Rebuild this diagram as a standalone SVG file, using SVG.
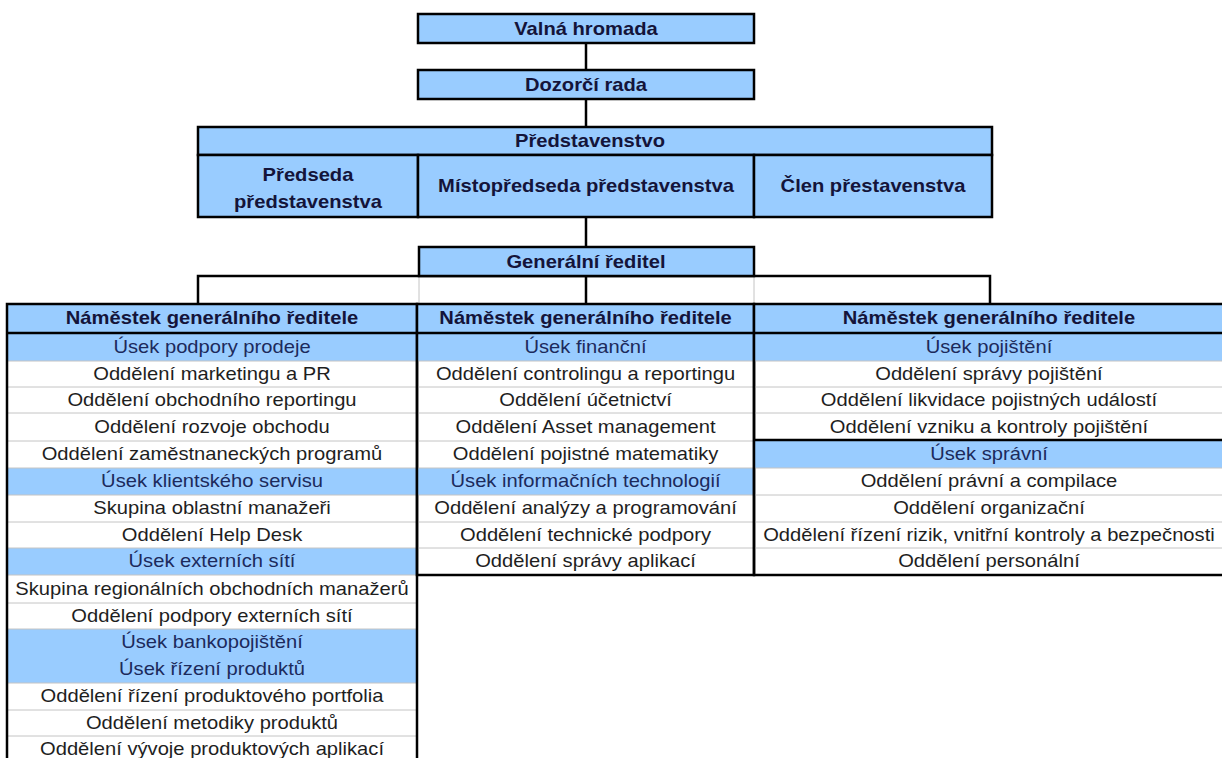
<svg xmlns="http://www.w3.org/2000/svg" width="1222" height="758" viewBox="0 0 1222 758">
<style>
.box{fill:#99ccff;stroke:#000;stroke-width:2.5}
.blue{fill:#99ccff}
.frame{fill:none;stroke:#000;stroke-width:2.5}
.thick{stroke:#000;stroke-width:2.5}
.grid{stroke:#c4c4c4;stroke-width:1}
.conn{stroke:#000;stroke-width:2.5;fill:none}
text{font-family:"Liberation Sans",Arial,sans-serif;font-size:18px;text-anchor:middle}
.b{font-weight:bold;fill:#14143a}
.r{fill:#1e1e1e}
.u{fill:#1c2a5c}
</style>
<rect x="0" y="0" width="1222" height="758" fill="#fff"/>

<g id="gridlines">
<line class="grid" x1="419" y1="276" x2="419" y2="304"/>
<line class="grid" x1="754" y1="276" x2="754" y2="304"/>
</g>

<g id="connectors">
<line class="conn" x1="586" y1="43" x2="586" y2="70"/>
<line class="conn" x1="586" y1="99" x2="586" y2="127"/>
<line class="conn" x1="586" y1="217" x2="586" y2="247"/>
<path class="conn" d="M198,304 V276 H990 V304"/>
<line class="conn" x1="586" y1="276" x2="586" y2="304"/>
</g>

<g id="valna-hromada">
<rect class="box" x="418" y="14" width="336" height="29"/>
<g transform="scale(1.12,1)"><text class="b" x="523.2" y="35">Valná hromada</text></g>
</g>

<g id="dozorci-rada">
<rect class="box" x="418" y="70" width="336" height="29"/>
<g transform="scale(1.12,1)"><text class="b" x="523.2" y="91">Dozorčí rada</text></g>
</g>

<g id="predstavenstvo">
<rect class="box" x="198" y="127" width="794" height="28"/>
<rect class="box" x="198" y="155" width="220" height="62"/>
<rect class="box" x="418" y="155" width="336" height="62"/>
<rect class="box" x="754" y="155" width="238" height="62"/>
<g transform="scale(1.12,1)">
<text class="b" x="526.8" y="147.5">Představenstvo</text>
<text class="b" x="275" y="181.5">Předseda</text>
<text class="b" x="275" y="208.5">představenstva</text>
<text class="b" x="523.2" y="192.5">Místopředseda představenstva</text>
<text class="b" x="779.5" y="192.5">Člen přestavenstva</text>
</g>
</g>

<g id="generalni-reditel">
<rect class="box" x="419" y="247" width="335" height="29"/>
<g transform="scale(1.12,1)"><text class="b" x="523.2" y="268">Generální ředitel</text></g>
</g>

<g id="namestek-1">
<rect class="blue" x="7" y="304" width="410" height="29"/>
<rect class="blue" x="7" y="333" width="410" height="28"/>
<rect class="blue" x="7" y="468" width="410" height="27"/>
<rect class="blue" x="7" y="548" width="410" height="27"/>
<rect class="blue" x="7" y="629" width="410" height="54"/>
<g class="grid">
<line x1="7" y1="361" x2="417" y2="361"/>
<line x1="7" y1="387" x2="417" y2="387"/>
<line x1="7" y1="413" x2="417" y2="413"/>
<line x1="7" y1="441" x2="417" y2="441"/>
<line x1="7" y1="468" x2="417" y2="468"/>
<line x1="7" y1="495" x2="417" y2="495"/>
<line x1="7" y1="522" x2="417" y2="522"/>
<line x1="7" y1="548" x2="417" y2="548"/>
<line x1="7" y1="575" x2="417" y2="575"/>
<line x1="7" y1="603" x2="417" y2="603"/>
<line x1="7" y1="629" x2="417" y2="629"/>
<line x1="7" y1="683" x2="417" y2="683"/>
<line x1="7" y1="710" x2="417" y2="710"/>
<line x1="7" y1="736" x2="417" y2="736"/>
</g>
<line class="thick" x1="7" y1="333" x2="417" y2="333"/>
<rect class="frame" x="7" y="304" width="410" height="470"/>
<g transform="scale(1.12,1)">
<text class="b" x="189.3" y="324.5">Náměstek generálního ředitele</text>
<text class="u" x="189.3" y="353">Úsek podpory prodeje</text>
<text class="r" x="189.3" y="380">Oddělení marketingu a PR</text>
<text class="r" x="189.3" y="406">Oddělení obchodního reportingu</text>
<text class="r" x="189.3" y="433">Oddělení rozvoje obchodu</text>
<text class="r" x="189.3" y="460.5">Oddělení zaměstnaneckých programů</text>
<text class="u" x="189.3" y="487.5">Úsek klientského servisu</text>
<text class="r" x="189.3" y="514.5">Skupina oblastní manažeři</text>
<text class="r" x="189.3" y="541">Oddělení Help Desk</text>
<text class="u" x="189.3" y="567.5">Úsek externích sítí</text>
<text class="r" x="189.3" y="595">Skupina regionálních obchodních manažerů</text>
<text class="r" x="189.3" y="622">Oddělení podpory externích sítí</text>
<text class="u" x="189.3" y="648.5">Úsek bankopojištění</text>
<text class="u" x="189.3" y="675.5">Úsek řízení produktů</text>
<text class="r" x="189.3" y="702.5">Oddělení řízení produktového portfolia</text>
<text class="r" x="189.3" y="729">Oddělení metodiky produktů</text>
<text class="r" x="189.3" y="755">Oddělení vývoje produktových aplikací</text>
</g>
</g>

<g id="namestek-2">
<rect class="blue" x="417" y="304" width="337" height="29"/>
<rect class="blue" x="417" y="333" width="337" height="28"/>
<rect class="blue" x="417" y="468" width="337" height="27"/>
<g class="grid">
<line x1="417" y1="361" x2="754" y2="361"/>
<line x1="417" y1="387" x2="754" y2="387"/>
<line x1="417" y1="413" x2="754" y2="413"/>
<line x1="417" y1="441" x2="754" y2="441"/>
<line x1="417" y1="468" x2="754" y2="468"/>
<line x1="417" y1="495" x2="754" y2="495"/>
<line x1="417" y1="522" x2="754" y2="522"/>
<line x1="417" y1="548" x2="754" y2="548"/>
</g>
<line class="thick" x1="417" y1="333" x2="754" y2="333"/>
<rect class="frame" x="417" y="304" width="337" height="271"/>
<g transform="scale(1.12,1)">
<text class="b" x="522.8" y="324.5">Náměstek generálního ředitele</text>
<text class="u" x="522.8" y="353">Úsek finanční</text>
<text class="r" x="522.8" y="380">Oddělení controlingu a reportingu</text>
<text class="r" x="522.8" y="406">Oddělení účetnictví</text>
<text class="r" x="522.8" y="433">Oddělení Asset management</text>
<text class="r" x="522.8" y="460.5">Oddělení pojistné matematiky</text>
<text class="u" x="522.8" y="487.5">Úsek informačních technologií</text>
<text class="r" x="522.8" y="514.5">Oddělení analýzy a programování</text>
<text class="r" x="522.8" y="541">Oddělení technické podpory</text>
<text class="r" x="522.8" y="567.5">Oddělení správy aplikací</text>
</g>
</g>

<g id="namestek-3">
<rect class="blue" x="754" y="304" width="470" height="29"/>
<rect class="blue" x="754" y="333" width="470" height="28"/>
<rect class="blue" x="754" y="440" width="470" height="28"/>
<g class="grid">
<line x1="754" y1="361" x2="1224" y2="361"/>
<line x1="754" y1="387" x2="1224" y2="387"/>
<line x1="754" y1="413" x2="1224" y2="413"/>
<line x1="754" y1="468" x2="1224" y2="468"/>
<line x1="754" y1="495" x2="1224" y2="495"/>
<line x1="754" y1="522" x2="1224" y2="522"/>
<line x1="754" y1="548" x2="1224" y2="548"/>
</g>
<line class="thick" x1="754" y1="333" x2="1224" y2="333"/>
<line class="thick" x1="754" y1="440" x2="1224" y2="440"/>
<rect class="frame" x="754" y="304" width="472" height="271"/>
<g transform="scale(1.12,1)">
<text class="b" x="883" y="324.5">Náměstek generálního ředitele</text>
<text class="u" x="883" y="353">Úsek pojištění</text>
<text class="r" x="883" y="380">Oddělení správy pojištění</text>
<text class="r" x="883" y="406">Oddělení likvidace pojistných událostí</text>
<text class="r" x="883" y="433">Oddělení vzniku a kontroly pojištění</text>
<text class="u" x="883" y="460.5">Úsek správní</text>
<text class="r" x="883" y="487.5">Oddělení právní a compilace</text>
<text class="r" x="883" y="514.5">Oddělení organizační</text>
<text class="r" x="883" y="541">Oddělení řízení rizik, vnitřní kontroly a bezpečnosti</text>
<text class="r" x="883" y="567.5">Oddělení personální</text>
</g>
</g>
</svg>
